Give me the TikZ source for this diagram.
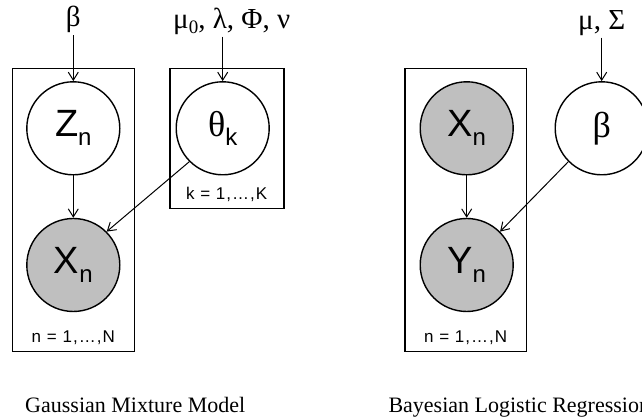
\documentclass[tikz,border=0pt]{standalone}
\usepackage{fontspec}
\setmainfont{Liberation Serif}
\newfontfamily\sanslbl{Liberation Sans}
\usepackage{tikz}
\usetikzlibrary{positioning, arrows.meta}
\definecolor{obsGray}{RGB}{191,191,191}
\newcommand{\lowsub}[1]{\raisebox{-9pt}{\fontsize{24}{24}\selectfont #1}}

\tikzset{
  varnode/.style={circle, draw, line width=1.4pt, minimum size=93pt, inner sep=0pt,
    font=\sanslbl\fontsize{38}{40}\selectfont},
  obsnode/.style={varnode, fill=obsGray},
  plate/.style={draw, line width=1.4pt},
  platelbl/.style={font=\sanslbl\fontsize{17}{19}\selectfont\addfontfeature{LetterSpace=6}, anchor=base},
  hyper/.style={font=\fontsize{29}{31}\selectfont, anchor=base, inner sep=2pt},
  caption/.style={font=\fontsize{22}{24}\selectfont, anchor=base west},
  edge/.style={-{Straight Barb[length=8pt,width=10pt]}, line width=1pt}
}

\begin{document}
\begin{tikzpicture}[x=1pt, y=1pt]
  \useasboundingbox (0,0) rectangle (642,419);
  \clip (0,0) rectangle (642,419);
  % Gaussian mixture model
  \draw[plate] (12.3,67.3) rectangle (134.3,350.7);
  \draw[plate] (170,210.7) rectangle (284,350.7);
  \node[varnode] (Z) at (73.3,290.7) {Z\lowsub{n}};
  \node[obsnode] (X) at (73.3,154) {X\lowsub{n}};
  \node[varnode] (theta) at (222.7,290.7) {{\fontsize{36}{38}\rmfamily θ}\lowsub{k}};
  \node[hyper] (betaTop) at (73.3,392) {β};
  \node[hyper] (hyperTop) at (231.7,390.7) {μ\raisebox{-5pt}{\fontsize{19}{19}\selectfont 0}, λ, Φ, ν};
  \node[platelbl] (nLblA) at (73.3,76.3) {n = 1,…,N};
  \node[platelbl] (kLbl) at (226.7,219) {k = 1,…,K};
  \draw[edge] (betaTop) -- (Z);
  \draw[edge] (hyperTop.south -| theta.north) -- (theta.north);
  \draw[edge] (Z) -- (X);
  \draw[edge] (theta.south west) -- (X.north east);
  \node[caption] (gmmCap) at (21.7,6.7) {Gaussian Mixture Model};
  % Bayesian logistic regression
  \draw[plate] (405,67.3) rectangle (526.7,350.7);
  \node[obsnode] (Xb) at (466.7,290.7) {X\lowsub{n}};
  \node[obsnode] (Y) at (466.7,154) {Y\lowsub{n}};
  \node[varnode] (beta) at (601.7,290.7) {\fontsize{36}{38}\rmfamily β};
  \node[hyper] (priorTop) at (601.7,389.7) {μ, Σ};
  \node[platelbl] (nLblB) at (465.7,76.3) {n = 1,…,N};
  \draw[edge] (priorTop) -- (beta);
  \draw[edge] (Xb) -- (Y);
  \draw[edge] (beta.south west) -- (Y.north east);
  \node[caption] (blrCap) at (385,6.7) {Bayesian Logistic Regression};
\end{tikzpicture}
\end{document}
